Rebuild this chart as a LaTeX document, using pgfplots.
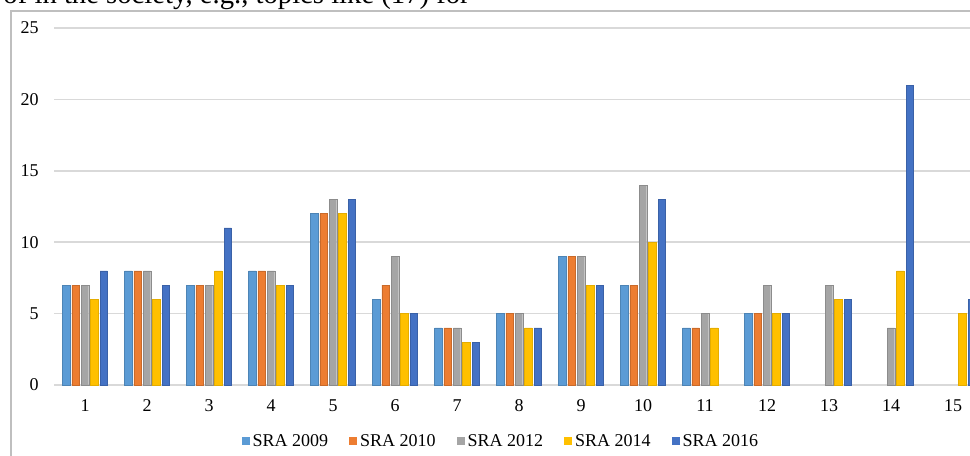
\documentclass[border=0pt]{standalone}
\usepackage{pgfplots}
\pgfplotsset{compat=1.18}
\usepackage{fontspec}
\setmainfont{Liberation Serif}
\definecolor{cA}{HTML}{5B9BD5}
\definecolor{cB}{HTML}{ED7D31}
\definecolor{cC}{HTML}{A5A5A5}
\definecolor{cD}{HTML}{FFC000}
\definecolor{cE}{HTML}{4472C4}
\definecolor{gridc}{HTML}{D9D9D9}
\definecolor{framec}{HTML}{BFBFBF}
\begin{document}
\begin{tikzpicture}
\path[use as bounding box, clip] (0pt,0pt) rectangle (727.5pt,-341.25pt);
\node[anchor=base east, inner sep=0pt, font=\fontsize{21.5pt}{24pt}\selectfont] at (352.5pt,-2.4pt) {of in the society, e.g., topics like (17) for};
\draw[framec, line width=1.2pt] (8.25pt,-400pt) -- (8.25pt,-8.25pt) -- (800pt,-8.25pt);
\begin{axis}[
  at={(40.5pt,-288.75pt)}, anchor=south west,
  scale only axis, width=697.5pt, height=267.75pt,
  ybar=1.43pt, bar width=5.6pt,
  xmin=0.5, xmax=15.5, ymin=0, ymax=25,
  xtick={1,...,15}, ytick={0,5,...,25},
  axis x line*=bottom, axis y line*=left,
  x axis line style={gridc, line width=1.1pt, -},
  y axis line style={draw=none},
  ymajorgrids, grid style={gridc, line width=1.1pt},
  major tick length=0pt,
  tick label style={font=\fontsize{13.5pt}{16pt}\selectfont},
  /pgf/number format/assume math mode=true,
  xticklabel style={yshift=-7.5pt},
  yticklabel style={xshift=-8pt},
  legend style={at={(0.481,-0.158)}, anchor=center, draw=none, fill=none,
    font=\fontsize{13.5pt}{16pt}\selectfont, legend columns=5,
    /tikz/every even column/.append style={column sep=14pt}},
  legend image code/.code={\fill[#1, draw=none] (0pt,-3pt) rectangle (6pt,3pt);},
  legend cell align=left,
]
\addplot[fill=cA, draw=cA!85!black, line width=0.3pt] coordinates {(1,7)(2,8)(3,7)(4,8)(5,12)(6,6)(7,4)(8,5)(9,9)(10,7)(11,4)(12,5)};
\addplot[fill=cB, draw=cB!85!black, line width=0.3pt] coordinates {(1,7)(2,8)(3,7)(4,8)(5,12)(6,7)(7,4)(8,5)(9,9)(10,7)(11,4)(12,5)};
\addplot[fill=cC, draw=cC!85!black, line width=0.3pt] coordinates {(1,7)(2,8)(3,7)(4,8)(5,13)(6,9)(7,4)(8,5)(9,9)(10,14)(11,5)(12,7)(13,7)(14,4)};
\addplot[fill=cD, draw=cD!90!black, line width=0.3pt] coordinates {(1,6)(2,6)(3,8)(4,7)(5,12)(6,5)(7,3)(8,4)(9,7)(10,10)(11,4)(12,5)(13,6)(14,8)(15,5)};
\addplot[fill=cE, draw=cE!85!black, line width=0.3pt] coordinates {(1,8)(2,7)(3,11)(4,7)(5,13)(6,5)(7,3)(8,4)(9,7)(10,13)(12,5)(13,6)(14,21)(15,6)};
\legend{SRA 2009, SRA 2010, SRA 2012, SRA 2014, SRA 2016}
\end{axis}
\end{tikzpicture}
\end{document}
